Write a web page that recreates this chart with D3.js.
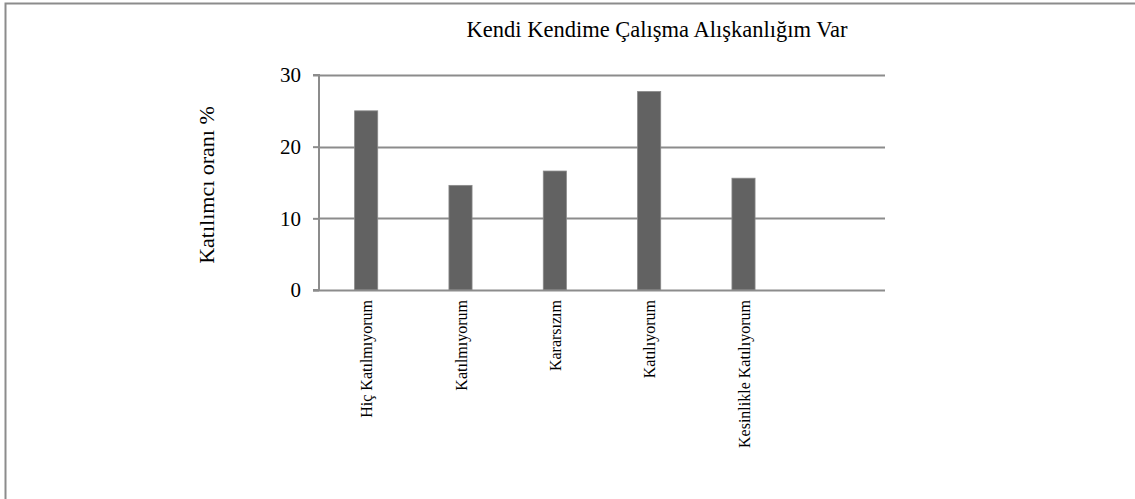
<!DOCTYPE html>
<html>
<head>
<meta charset="utf-8">
<script src="https://cdn.jsdelivr.net/npm/d3@7"></script>
<style>
  body { margin: 0; background: #fff; }
  text { font-family: "Liberation Serif", "Times New Roman", serif; fill: #000; }
</style>
</head>
<body>
<script>
// chart data
var categories = ["Hiç Katılmıyorum", "Katılmıyorum", "Kararsızım", "Katılıyorum", "Kesinlikle Katılıyorum", ""];
var values = [25, 14.6, 16.6, 27.7, 15.6];
var yTicks = [0, 10, 20, 30];
var title = "Kendi Kendime Çalışma Alışkanlığım Var";
var yTitle = "Katılımcı oranı %";

var W = 1135, H = 499;
var svg = d3.select("body").append("svg")
  .attr("width", W)
  .attr("height", H);

// outer frame (top and left only)
svg.append("path")
  .attr("d", "M5.5," + H + "V3.5H" + W)
  .attr("fill", "none")
  .attr("stroke", "#8c8c8c")
  .attr("stroke-width", 2);

var plot = {left: 319, right: 885, top: 75, bottom: 290};

var x = d3.scaleBand()
  .domain(categories.map(function(d, i){ return i; }))
  .range([plot.left, plot.right])
  .paddingInner(0.755)
  .paddingOuter(0.3775);

var y = d3.scaleLinear()
  .domain([0, 30])
  .range([plot.bottom, plot.top]);

// gridlines
svg.append("g")
  .selectAll("line")
  .data(yTicks.filter(function(t){ return t > 0; }))
  .enter()
  .append("line")
  .attr("x1", plot.left)
  .attr("x2", plot.right)
  .attr("y1", function(d){ return Math.round(y(d)) + 0.5; })
  .attr("y2", function(d){ return Math.round(y(d)) + 0.5; })
  .attr("stroke", "#8c8c8c")
  .attr("stroke-width", 2);

// bars
svg.append("g")
  .selectAll("rect")
  .data(values)
  .enter()
  .append("rect")
  .attr("x", function(d, i){ return x(i); })
  .attr("width", x.bandwidth())
  .attr("y", function(d){ return y(d); })
  .attr("height", function(d){ return y(0) - y(d); })
  .attr("fill", "#626262")
  .attr("stroke", "#8a8a8a")
  .attr("stroke-width", 0.8);

// y axis
var yAxis = svg.append("g")
  .attr("transform", "translate(" + plot.left + ",0)")
  .call(d3.axisLeft(y).tickValues(yTicks).tickSize(6).tickPadding(12).tickFormat(d3.format("d")));
yAxis.selectAll("path, line").attr("stroke", "#8c8c8c").attr("stroke-width", 2);
yAxis.select(".domain").attr("d", "M-6," + plot.top + "H0V" + plot.bottom + "H-6");
yAxis.selectAll("text")
  .style("font-family", "Liberation Serif")
  .style("font-size", "21px")
  .attr("fill", "#000");

// x axis baseline
svg.append("line")
  .attr("x1", plot.left - 6)
  .attr("x2", plot.right)
  .attr("y1", plot.bottom + 0.5)
  .attr("y2", plot.bottom + 0.5)
  .attr("stroke", "#8c8c8c")
  .attr("stroke-width", 2);

// category labels, rotated
svg.append("g")
  .selectAll("text")
  .data(categories)
  .enter()
  .append("text")
  .attr("transform", function(d, i){
    return "translate(" + (x(i) + x.bandwidth() / 2 + 6) + "," + (plot.bottom + 10) + ") rotate(-90)";
  })
  .style("text-anchor", "end")
  .style("font-size", "16px")
  .text(function(d){ return d; });

// title
svg.append("text")
  .attr("x", 657)
  .attr("y", 37)
  .style("text-anchor", "middle")
  .style("font-size", "22.5px")
  .text(title);

// y axis title
svg.append("text")
  .attr("transform", "translate(214,185) rotate(-90)")
  .style("text-anchor", "middle")
  .style("font-size", "22px")
  .text(yTitle);
</script>
</body>
</html>
